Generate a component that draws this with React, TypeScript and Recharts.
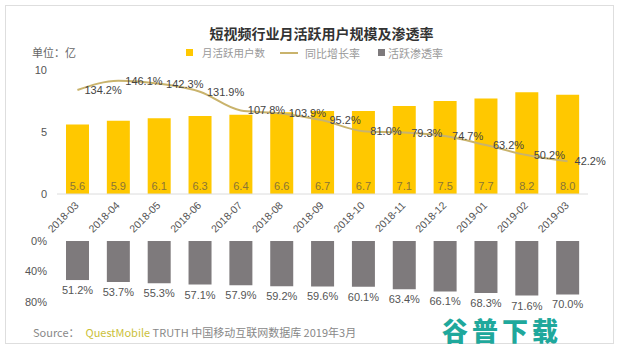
import {
  ComposedChart,
  BarChart,
  Bar,
  Line,
  XAxis,
  YAxis,
  LabelList,
} from 'recharts';

const months = [
  '2018-03', '2018-04', '2018-05', '2018-06', '2018-07', '2018-08', '2018-09',
  '2018-10', '2018-11', '2018-12', '2019-01', '2019-02', '2019-03',
];
// 月活跃用户数 (亿)
const users = [5.6, 5.9, 6.1, 6.3, 6.4, 6.6, 6.7, 6.7, 7.1, 7.5, 7.7, 8.2, 8.0];
// 同比增长率 (%)
const growth = [134.2, 146.1, 142.3, 131.9, 107.8, 103.9, 95.2, 81.0, 79.3, 74.7, 63.2, 50.2, 42.2];
// 活跃渗透率 (%)
const penetration = [51.2, 53.7, 55.3, 57.1, 57.9, 59.2, 59.6, 60.1, 63.4, 66.1, 68.3, 71.6, 70.0];

const userTicks = [0, 5, 10];
const penTicks = [0, 40, 80];

const YELLOW = '#FFC800';
const GOLD_LINE = '#C9B36C';
const GRAY_BAR = '#7e7a7c';
const NUM_FONT = '"Liberation Sans", Arial, sans-serif';
const CJK_FONT = '"Noto Sans CJK SC", "Noto Sans", sans-serif';

// x 轴标签斜 45 度
function MonthTick(props: any) {
  const { x, y, payload } = props;
  return (
    <text
      transform={`translate(${x + 2},${y + 4}) rotate(-45)`}
      textAnchor="end"
      fill="#555"
      fontSize={10.5}
      fontFamily={NUM_FONT}
    >
      {payload.value}
    </text>
  );
}

function GrowthLabel(props: any) {
  const { x, y, value } = props;
  return (
    <text x={x + 7} y={y + 4} fill="#444" fontSize={11} fontFamily={NUM_FONT}>
      {Number(value).toFixed(1)}%
    </text>
  );
}

// 渗透率标签放在倒置柱子的下方
function PenLabel(props: any) {
  const { x, y, width, height, value } = props;
  const bottom = Math.max(y, y + height);
  return (
    <text
      x={x + width / 2}
      y={bottom + 14}
      textAnchor="middle"
      fill="#555"
      fontSize={11}
      fontFamily={NUM_FONT}
    >
      {Number(value).toFixed(1)}%
    </text>
  );
}

export default function App() {
  const data = months.map((m, i) => ({
    month: m,
    users: users[i],
    growth: growth[i],
    penetration: penetration[i],
  }));

  return (
    <div
      style={{
        position: 'absolute',
        left: 0,
        top: 0,
        width: 619,
        height: 351,
        background: '#fff',
        fontFamily: CJK_FONT,
        overflow: 'hidden',
      }}
    >
      <div
        style={{
          position: 'absolute',
          left: 5,
          top: 5,
          width: 607,
          height: 337,
          border: '1px solid #dedede',
        }}
      />
      <div
        style={{
          position: 'absolute',
          left: 0,
          top: 23,
          width: 643,
          textAlign: 'center',
          fontSize: 14,
          lineHeight: '20px',
          fontWeight: 'bold',
          color: '#333',
        }}
      >
        短视频行业月活跃用户规模及渗透率
      </div>
      <div style={{ position: 'absolute', left: 32, top: 45, fontSize: 11, lineHeight: '14px', color: '#666' }}>
        单位：亿
      </div>

      {/* 图例 */}
      <div style={{ position: 'absolute', left: 186, top: 49, width: 7, height: 7, background: YELLOW }} />
      <div style={{ position: 'absolute', left: 202, top: 46, fontSize: 10.5, lineHeight: '14px', color: '#999' }}>
        月活跃用户数
      </div>
      <div style={{ position: 'absolute', left: 280, top: 52, width: 18, height: 2, background: GOLD_LINE }} />
      <div style={{ position: 'absolute', left: 305, top: 46, fontSize: 11, lineHeight: '14px', color: '#999' }}>
        同比增长率
      </div>
      <div style={{ position: 'absolute', left: 378, top: 49, width: 7, height: 7, background: GRAY_BAR }} />
      <div style={{ position: 'absolute', left: 388, top: 46, fontSize: 11, lineHeight: '14px', color: '#999' }}>
        活跃渗透率
      </div>

      <div style={{ position: 'absolute', left: 0, top: 230 }}>
        <BarChart
          width={619}
          height={121}
          data={data}
          margin={{ top: 11, right: 31, left: 0, bottom: 49 }}
          barSize={23}
        >
          <XAxis dataKey="month" hide />
          <YAxis
            width={57}
            reversed
            domain={[0, 80]}
            ticks={penTicks}
            axisLine={false}
            tickLine={false}
            tickMargin={4}
            tickFormatter={(v: number) => `${v}%`}
            tick={{ fill: '#555', fontSize: 11, fontFamily: NUM_FONT }}
          />
          <Bar dataKey="penetration" fill={GRAY_BAR} isAnimationActive={false}>
            <LabelList dataKey="penetration" content={<PenLabel />} />
          </Bar>
        </BarChart>
      </div>

      <div style={{ position: 'absolute', left: 0, top: 0 }}>
        <ComposedChart
          width={619}
          height={238}
          data={data}
          margin={{ top: 70, right: 31, left: 0, bottom: 4 }}
          barSize={23}
        >
          <XAxis
            dataKey="month"
            height={40}
            interval={0}
            tickLine={false}
            axisLine={{ stroke: '#dcdcdc' }}
            tick={<MonthTick />}
          />
          <YAxis
            yAxisId="left"
            width={57}
            domain={[0, 10]}
            ticks={userTicks}
            axisLine={false}
            tickLine={false}
            tickMargin={4}
            tick={{ fill: '#555', fontSize: 11, fontFamily: NUM_FONT }}
          />
          <YAxis yAxisId="right" orientation="right" domain={[0, 160]} hide />
          <Bar yAxisId="left" dataKey="users" fill={YELLOW} isAnimationActive={false}>
            <LabelList
              dataKey="users"
              position="insideBottom"
              offset={4}
              fill="#8a7535"
              fontSize={11}
              fontFamily={NUM_FONT}
              formatter={(v: any) => Number(v).toFixed(1)}
            />
          </Bar>
          <Line
            yAxisId="right"
            type="monotone"
            dataKey="growth"
            stroke={GOLD_LINE}
            strokeWidth={2}
            dot={false}
            activeDot={false}
            isAnimationActive={false}
          >
            <LabelList dataKey="growth" content={<GrowthLabel />} />
          </Line>
        </ComposedChart>
      </div>

      <div
        style={{
          position: 'absolute',
          left: 33,
          top: 325,
          fontSize: 11,
          lineHeight: '14px',
          color: '#888',
          whiteSpace: 'nowrap',
        }}
      >
        Source：<span style={{ color: '#cbbf3a', marginLeft: 6 }}>QuestMobile</span> TRUTH 中国移动互联网数据库 2019年3月
      </div>
      <div
        style={{
          position: 'absolute',
          left: 442,
          top: 317,
          fontSize: 26,
          lineHeight: '26px',
          fontWeight: 900,
          letterSpacing: 4,
          color: '#1fa89c',
          whiteSpace: 'nowrap',
        }}
      >
        谷普下载
      </div>
    </div>
  );
}
